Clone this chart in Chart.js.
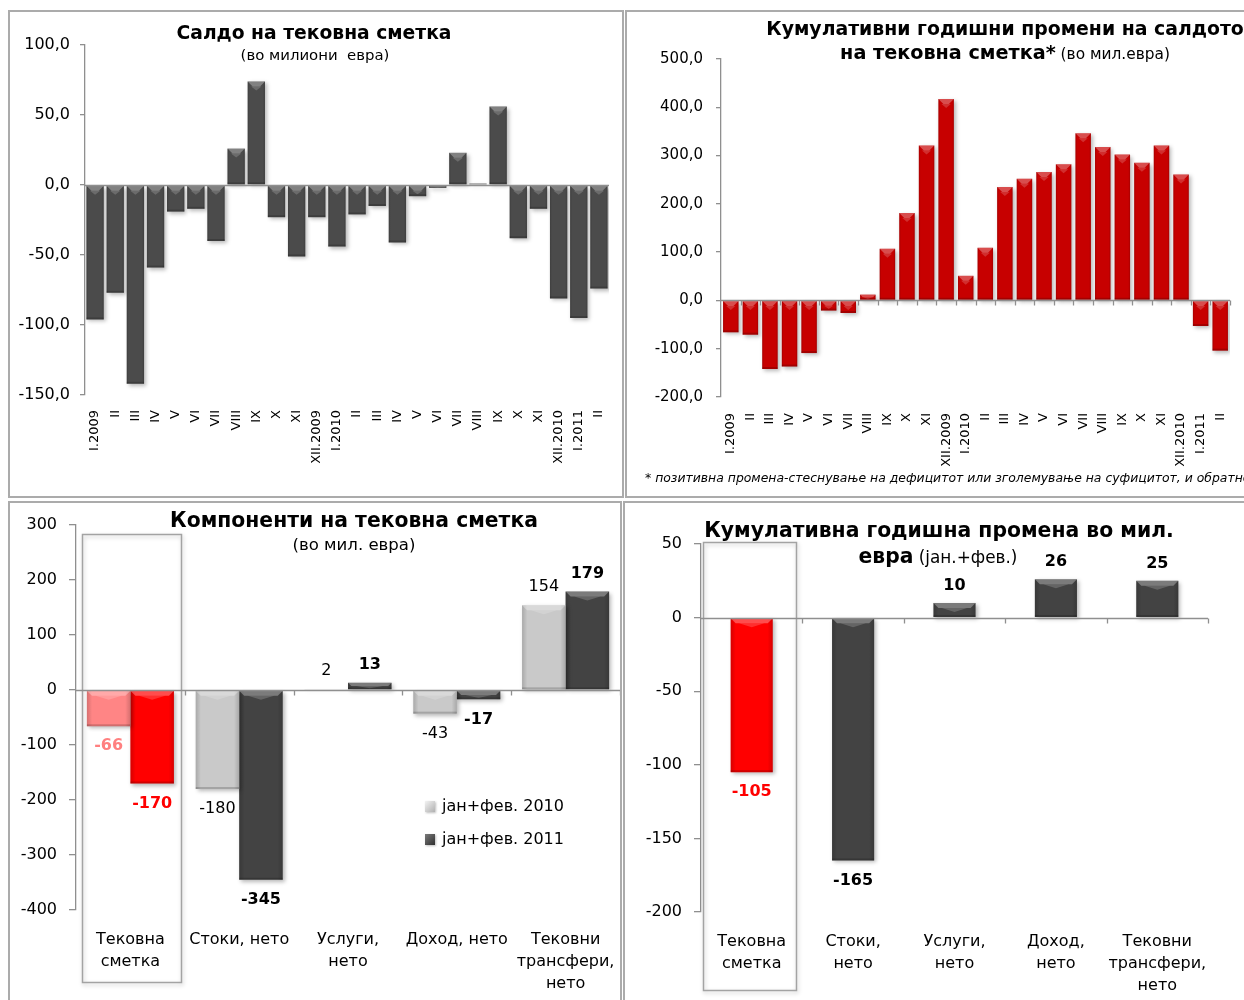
<!DOCTYPE html>
<html><head><meta charset="utf-8">
<script src="https://cdn.jsdelivr.net/npm/chart.js@4.4.1/dist/chart.umd.min.js"></script>
<style>
html,body{margin:0;padding:0;background:#fff}
body{width:1244px;height:1000px;overflow:hidden;position:relative;font-family:"DejaVu Sans",Verdana,sans-serif;color:#000}
canvas{position:absolute}
.panel{position:absolute;border:2px solid #ababab;box-sizing:border-box;pointer-events:none;z-index:5}
.t{position:absolute;white-space:pre;line-height:1.2;transform:translate(-50%,-50%);z-index:6}
.b{font-weight:bold}
.n{font-weight:normal}
.foot{position:absolute;white-space:pre;font-style:italic;transform:translateY(-50%);z-index:6;line-height:1.2}
</style></head><body>

<div class="panel" style="left:8px;top:10px;width:616px;height:488px"></div>
<div class="panel" style="left:625px;top:10px;width:630px;height:488px"></div>
<div class="panel" style="left:8px;top:501px;width:614px;height:510px"></div>
<div class="panel" style="left:623px;top:501px;width:630px;height:510px"></div>

<canvas id="c1" width="614" height="486" style="left:9px;top:11px"></canvas>
<canvas id="c2" width="618" height="486" style="left:626px;top:11px"></canvas>
<canvas id="c3" width="612" height="498" style="left:9px;top:502px"></canvas>
<canvas id="c4" width="620" height="498" style="left:624px;top:502px"></canvas>

<div id="t1" class="t b" style="left:314px;top:33px;font-size:18px">Салдо на тековна сметка</div>
<div id="t1s" class="t" style="left:315px;top:56px;font-size:14px">(во милиони  евра)</div>
<div id="t2a" class="t b" style="left:1005px;top:28px;font-size:18px">Кумулативни годишни промени на салдото</div>
<div id="t2b" class="t" style="left:1005px;top:53px;font-size:18px"><span class="b">на тековна сметка*</span><span style="font-size:0.8em"> (во мил.евра)</span></div>
<div id="foot" class="foot" style="left:645px;top:478px;font-size:12px">* позитивна промена-стеснување на дефицитот или зголемување на суфицитот, и обратно</div>
<div id="t3" class="t b" style="left:354px;top:520px;font-size:18px">Компоненти на тековна сметка</div>
<div id="t3s" class="t" style="left:354px;top:545px;font-size:15px">(во мил. евра)</div>
<div id="t4a" class="t b" style="left:939px;top:530px;font-size:18px">Кумулативна годишна промена во мил.</div>
<div id="t4b" class="t" style="left:938px;top:556px;font-size:18px"><span class="b">евра</span><span style="font-size:0.83em"> (јан.+фев.)</span></div>

<script>
// ---------------- DATA ----------------
const monthLabels = ['I.2009','II','III','IV','V','VI','VII','VIII','IX','X','XI','XII.2009','I.2010','II','III','IV','V','VI','VII','VIII','IX','X','XI','XII.2010','I.2011','II'];
const currentAccountBalance = [-96,-77,-142,-59,-19,-17,-40,26,74,-23,-51,-23,-44,-21,-15,-41,-8,-2,23,1,56,-38,-17,-81,-95,-74];
const cumulativeAnnualChange = [-66,-71,-142,-137,-109,-21,-26,12,107,181,321,417,51,109,235,252,266,282,346,318,302,285,321,261,-53,-104];
const componentLabels = [['Тековна','сметка'],'Стоки, нето',['Услуги,','нето'],'Доход, нето',['Тековни','трансфери,','нето']];
const seriesNames = ['јан+фев. 2010','јан+фев. 2011'];
const components2010 = [-66,-180,2,-43,154];
const components2011 = [-170,-345,13,-17,179];
const changeLabels = [['Тековна','сметка'],['Стоки,','нето'],['Услуги,','нето'],['Доход,','нето'],['Тековни','трансфери,','нето']];
const componentsChange = [-105,-165,10,26,25];
const ticks1 = [-150,-100,-50,0,50,100];
const ticks2 = [-200,-100,0,100,200,300,400,500];
const ticks3 = [-400,-300,-200,-100,0,100,200,300];
const ticks4 = [-200,-150,-100,-50,0,50];

// ---------------- STYLE / PLUGINS ----------------
const FONT = '"DejaVu Sans", Verdana, sans-serif';
Chart.defaults.font.family = FONT;
Chart.defaults.color = '#000';
Chart.defaults.animation = false;
Chart.defaults.plugins.legend.display = false;
Chart.defaults.plugins.tooltip.enabled = false;
const AXIS = '#8f8f8f';

const bevel = {
  id: 'bevel',
  beforeDatasetsDraw(chart) {
    const c = chart.ctx; c.save();
    c.shadowColor = 'rgba(0,0,0,0.28)'; c.shadowBlur = 4; c.shadowOffsetX = 2; c.shadowOffsetY = 2;
  },
  afterDatasetsDraw(chart) {
    const c = chart.ctx; c.restore();
    chart.data.datasets.forEach((ds, i) => {
      chart.getDatasetMeta(i).data.forEach(el => {
        const {x, y, base, width} = el.getProps(['x','y','base','width'], true);
        const l = x - width/2, r = x + width/2, t = Math.min(y, base), b = Math.max(y, base), h = b - t;
        if (h < 1) return;
        c.save();
        const g = c.createLinearGradient(l, 0, r, 0);
        g.addColorStop(0, 'rgba(0,0,0,0.16)'); g.addColorStop(0.12, 'rgba(0,0,0,0)');
        g.addColorStop(0.88, 'rgba(0,0,0,0)'); g.addColorStop(1, 'rgba(0,0,0,0.16)');
        c.fillStyle = g; c.fillRect(l, t, width, h);
        const bh = Math.min(5, h/2);
        c.fillStyle = 'rgba(255,255,255,0.3)';
        c.beginPath(); c.moveTo(l, t); c.lineTo(r, t); c.lineTo(r - bh, t + bh); c.lineTo(l + bh, t + bh); c.closePath(); c.fill();
        c.fillStyle = 'rgba(255,255,255,0.18)';
        c.beginPath(); c.moveTo(x - width*0.3, t + bh); c.lineTo(x + width*0.3, t + bh); c.lineTo(x, t + bh + Math.min(4, h/3)); c.closePath(); c.fill();
        c.fillStyle = 'rgba(0,0,0,0.18)'; c.fillRect(l, b - Math.min(2, h/3), width, Math.min(2, h/3));
        c.restore();
      });
    });
  }
};

const zeroLine = {
  id: 'zeroLine',
  afterDatasetsDraw(chart, args, o) {
    const {ctx, chartArea: a} = chart;
    const xs = chart.scales.x, ys = chart.scales.y;
    const y0 = Math.round(ys.getPixelForValue(0)) + 0.5;
    ctx.save();
    ctx.strokeStyle = AXIS; ctx.lineWidth = 1.3;
    ctx.beginPath(); ctx.moveTo(a.left, y0); ctx.lineTo(a.right, y0); ctx.stroke();
    if (o.ticks) {
      const n = chart.data.labels.length, cw = (a.right - a.left) / n;
      ctx.beginPath();
      for (let i = 1; i <= n; i++) {
        const x = Math.round(xs.getPixelForValue(i - 1) + cw/2) + 0.5;
        ctx.moveTo(x, y0); ctx.lineTo(x, y0 + 5);
      }
      ctx.stroke();
    }
    ctx.restore();
  }
};

const vlabels = {
  id: 'vlabels',
  afterDatasetsDraw(chart, args, o) {
    if (!o.show) return;
    const ctx = chart.ctx;
    chart.data.datasets.forEach((ds, di) => {
      chart.getDatasetMeta(di).data.forEach((el, i) => {
        const v = ds.data[i];
        const st = o.style(di, i);
        ctx.save();
        ctx.font = st.font; ctx.fillStyle = st.color;
        ctx.textAlign = 'center'; ctx.textBaseline = 'middle';
        const y = v < 0 ? el.y + o.neg : el.y - o.pos;
        ctx.fillText(String(v), el.x + (st.dx || 0), y);
        ctx.restore();
      });
    });
  }
};

const hbox = {
  id: 'hbox',
  beforeDatasetsDraw(chart, args, o) {
    if (!o.show) return;
    const {ctx, chartArea: a} = chart;
    const n = chart.data.labels.length, cw = (a.right - a.left) / n;
    const cx = chart.scales.x.getPixelForValue(o.index);
    const l = Math.round(cx - cw*o.lf) + 0.5, r = Math.round(cx + cw*o.rf) + 0.5;
    const t = Math.round(a.top + o.top) + 0.5, b = Math.round(a.bottom + o.bottom) + 0.5;
    ctx.save();
    ctx.shadowColor = 'rgba(0,0,0,0.22)'; ctx.shadowBlur = 4; ctx.shadowOffsetX = 1; ctx.shadowOffsetY = 2;
    ctx.strokeStyle = '#a3a3a3'; ctx.lineWidth = 1.5;
    ctx.strokeRect(l, t, r - l, b - t);
    ctx.restore();
  }
};

const mlegend = {
  id: 'mlegend',
  afterDraw(chart, args, o) {
    if (!o.show) return;
    const {ctx, chartArea: a} = chart;
    chart.data.datasets.forEach((ds, i) => {
      const x = a.left + o.x, y = a.top + o.y + i * o.gap;
      ctx.save();
      const g = ctx.createLinearGradient(x, y - 5, x + 10, y + 5);
      g.addColorStop(0, o.colors[i][0]); g.addColorStop(1, o.colors[i][1]);
      ctx.shadowColor = 'rgba(0,0,0,0.25)'; ctx.shadowBlur = 2; ctx.shadowOffsetX = 1; ctx.shadowOffsetY = 1;
      ctx.fillStyle = g; ctx.fillRect(x, y - 6, 10, 11);
      ctx.restore();
      ctx.save();
      ctx.font = '16px ' + FONT; ctx.fillStyle = '#000'; ctx.textBaseline = 'middle'; ctx.textAlign = 'left';
      ctx.fillText(ds.label, x + 17, y);
      ctx.restore();
    });
  }
};

function yAxis(min, max, step, width, tickLen, pad, size, fmt, tickVals) {
  return {
    min, max,
    afterFit(s) { s.width = width; },
    afterBuildTicks(s) { s.ticks = tickVals.map(v => ({value: v})); },
    border: {display: true, color: AXIS, width: 1.3},
    grid: {drawOnChartArea: false, drawTicks: true, tickLength: tickLen, tickColor: AXIS, lineWidth: 1.3},
    ticks: {padding: pad, font: {size}, color: '#000', callback: fmt}
  };
}
function xAxis(height, pad, size, rot, lh) {
  return {
    afterFit(s) { s.height = height; s.paddingLeft = 0; s.paddingRight = 0; },
    border: {display: false},
    grid: {display: false, drawTicks: false},
    ticks: {padding: pad, autoSkip: false, minRotation: rot, maxRotation: rot, font: {size, lineHeight: lh}, color: '#000'}
  };
}
const dec1 = v => v.toFixed(1).replace('.', ',');
const int0 = v => String(v);

// ---------- Chart 1 ----------
new Chart(document.getElementById('c1'), {
  type: 'bar',
  data: {labels: monthLabels, datasets: [{data: currentAccountBalance, backgroundColor: '#4b4b4b', categoryPercentage: 1, barPercentage: 0.86}]},
  options: {
    responsive: false, devicePixelRatio: 1,
    layout: {padding: {left: 0, right: 14, top: 34, bottom: 0}},
    scales: {x: xAxis(102, 15, 13, 90, 1.2), y: yAxis(-150, 100, 50, 76, 5, 10, 16, dec1, ticks1)},
    plugins: {zeroLine: {ticks: false}}
  },
  plugins: [bevel, zeroLine]
});

// ---------- Chart 2 ----------
new Chart(document.getElementById('c2'), {
  type: 'bar',
  data: {labels: monthLabels, datasets: [{data: cumulativeAnnualChange, backgroundColor: '#c70000', categoryPercentage: 1, barPercentage: 0.79}]},
  options: {
    responsive: false, devicePixelRatio: 1,
    layout: {padding: {left: 0, right: 14, top: 48, bottom: 0}},
    scales: {x: xAxis(100, 16, 13, 90, 1.2), y: yAxis(-200, 500, 100, 95, 5, 13, 15, dec1, ticks2)},
    plugins: {zeroLine: {ticks: true}}
  },
  plugins: [bevel, zeroLine]
});

// ---------- Chart 3 ----------
const c3light = ['#ff8585', '#c9c9c9', '#c9c9c9', '#c9c9c9', '#c9c9c9'];
const c3dark = ['#ff0000', '#434343', '#434343', '#434343', '#434343'];
new Chart(document.getElementById('c3'), {
  type: 'bar',
  data: {labels: componentLabels, datasets: [
    {label: seriesNames[0], data: components2010, backgroundColor: c3light, categoryPercentage: 0.8, barPercentage: 1},
    {label: seriesNames[1], data: components2011, backgroundColor: c3dark, categoryPercentage: 0.8, barPercentage: 1}
  ]},
  options: {
    responsive: false, devicePixelRatio: 1,
    layout: {padding: {left: 0, right: 1, top: 23, bottom: 0}},
    scales: {x: xAxis(90, 19, 16, 0, 1.375), y: yAxis(-400, 300, 100, 67, 7, 12, 16, int0, ticks3)},
    plugins: {
      zeroLine: {ticks: true},
      hbox: {show: true, index: 0, lf: 0.445, rf: 0.465, top: 9, bottom: 72},
      vlabels: {show: true, neg: 20, pos: 18, style: (d, i) => {
        if (i === 0) return {font: 'bold 16px ' + FONT, color: d === 0 ? '#ff8080' : '#ff0000'};
        return {font: (d === 0 ? '' : 'bold ') + '16px ' + FONT, color: '#000'};
      }},
      mlegend: {show: true, x: 349, y: 282, gap: 33, colors: [['#f0f0f0', '#b0b0b0'], ['#777777', '#2f2f2f']]}
    }
  },
  plugins: [hbox, bevel, zeroLine, vlabels, mlegend]
});

// ---------- Chart 4 ----------
new Chart(document.getElementById('c4'), {
  type: 'bar',
  data: {labels: changeLabels, datasets: [
    {data: componentsChange, backgroundColor: ['#ff0000', '#434343', '#434343', '#434343', '#434343'], categoryPercentage: 0.415, barPercentage: 1}
  ]},
  options: {
    responsive: false, devicePixelRatio: 1,
    layout: {padding: {left: 0, right: 36, top: 42, bottom: 0}},
    scales: {x: xAxis(88, 19, 16, 0, 1.375), y: yAxis(-200, 50, 50, 77, 7, 12, 16, int0, ticks4)},
    plugins: {
      zeroLine: {ticks: true},
      hbox: {show: true, index: 0, lf: 0.48, rf: 0.44, top: -2, bottom: 78},
      vlabels: {show: true, neg: 20, pos: 17, style: (d, i) => ({font: 'bold 16px ' + FONT, color: i === 0 ? '#ff0000' : '#000'})}
    }
  },
  plugins: [hbox, bevel, zeroLine, vlabels]
});

// ---------- fit titles to reference widths ----------
function fit(id, target) {
  const el = document.getElementById(id);
  const w = el.getBoundingClientRect().width;
  const fs = parseFloat(getComputedStyle(el).fontSize);
  el.style.fontSize = (fs * target / w) + 'px';
}
fit('t1', 275); fit('t1s', 149); fit('t2a', 478); fit('t2b', 330);
fit('foot', 606); fit('t3', 368); fit('t3s', 123); fit('t4a', 470); fit('t4b', 159);
</script>
</body></html>
